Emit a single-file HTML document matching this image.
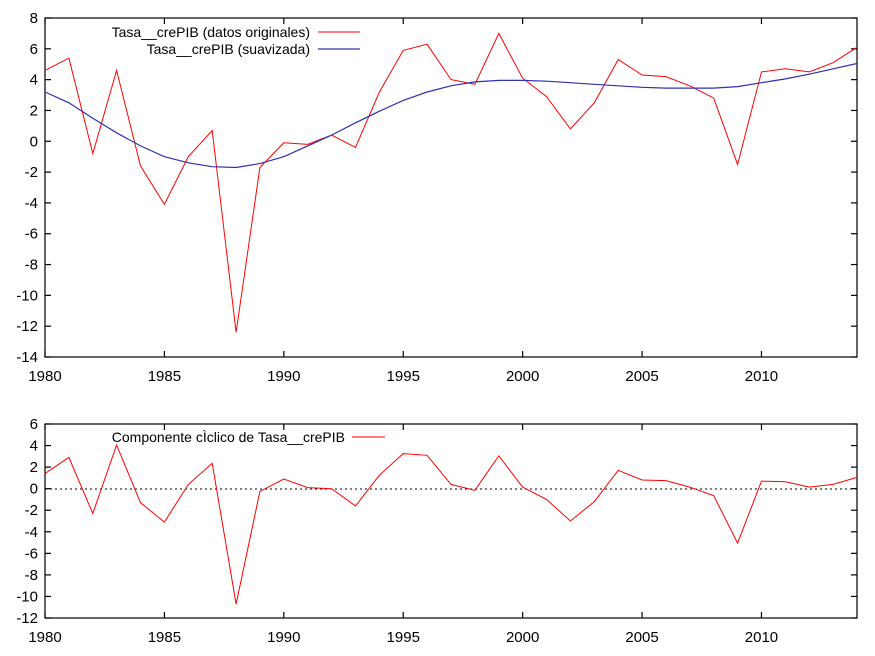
<!DOCTYPE html>
<html><head><meta charset="utf-8"><style>
body{margin:0;background:#fff}
svg{display:block;font-family:"Liberation Sans",Arial,sans-serif;font-size:15px}
.lg{font-size:14px}
</style></head><body>
<svg id="s" width="875" height="656" viewBox="0 0 875 656">
<rect x="0" y="0" width="875" height="656" fill="#fff"/>
<g id="ax" stroke="#000" stroke-width="1.2" fill="none"></g>
<g id="lab" fill="#000"></g>
<line x1="45" y1="489" x2="857" y2="489" stroke="#000" stroke-dasharray="2,3"/>
<polyline id="o" fill="none" stroke="#f00" stroke-width="1"/>
<polyline id="t" fill="none" stroke="#3030b0" stroke-width="1.2"/>
<polyline id="c" fill="none" stroke="#f00" stroke-width="1"/>
<text class="lg" x="310" y="37" text-anchor="end">Tasa__crePIB (datos originales)</text>
<line x1="318" y1="32" x2="360" y2="32" stroke="#f00"/>
<text class="lg" x="310" y="54" text-anchor="end">Tasa__crePIB (suavizada)</text>
<line x1="318" y1="49" x2="360" y2="49" stroke="#3030b0" stroke-width="1.2"/>
<text class="lg" x="345" y="442" text-anchor="end">Componente cÌclico de Tasa__crePIB</text>
<line x1="352" y1="437" x2="385" y2="437" stroke="#f00"/>
</svg>
<script>
var o=[4.6,5.4,-0.8,4.6,-1.6,-4.1,-1.0,0.7,-12.4,-1.7,-0.1,-0.2,0.4,-0.4,3.2,5.9,6.3,4.0,3.7,7.0,4.1,2.9,0.8,2.5,5.3,4.3,4.2,3.6,2.8,-1.5,4.5,4.7,4.5,5.1,6.1];
var t=[3.2,2.5,1.5,0.55,-0.3,-1.0,-1.4,-1.65,-1.7,-1.45,-1.0,-0.3,0.4,1.2,1.95,2.65,3.2,3.6,3.85,3.95,3.95,3.9,3.8,3.7,3.6,3.5,3.45,3.45,3.45,3.55,3.8,4.05,4.35,4.7,5.05];
var L=45,R=857,T1=18,B1=357,T2=424,B2=618;
function X(i){return L+i*(R-L)/34}
function Y1(v){return T1+(8-v)*(B1-T1)/22}
function Y2(v){return T2+(6-v)*(B2-T2)/18}
function pts(a,f){return a.map(function(v,i){return X(i).toFixed(1)+","+f(v).toFixed(1)}).join(" ")}
document.getElementById("o").setAttribute("points",pts(o,Y1));
document.getElementById("t").setAttribute("points",pts(t,Y1));
document.getElementById("c").setAttribute("points",pts(o.map(function(v,i){return v-t[i]}),Y2));
var ax="",lb="";
function frame(T,B,ymin,ymax,f){
 ax+='<rect x="'+L+'" y="'+T+'" width="'+(R-L)+'" height="'+(B-T)+'"/>';
 for(var v=ymin;v<=ymax;v+=2){var y=f(v);ax+='<line x1="'+L+'" y1="'+y+'" x2="'+(L+6)+'" y2="'+y+'"/><line x1="'+R+'" y1="'+y+'" x2="'+(R-6)+'" y2="'+y+'"/>';
 lb+='<text x="'+(L-7)+'" y="'+(y+5)+'" text-anchor="end">'+v+'</text>';}
 for(var yr=1980;yr<=2010;yr+=5){var x=X(yr-1980);ax+='<line x1="'+x+'" y1="'+B+'" x2="'+x+'" y2="'+(B-6)+'"/><line x1="'+x+'" y1="'+T+'" x2="'+x+'" y2="'+(T+6)+'"/>';
 lb+='<text x="'+x+'" y="'+(B+24)+'" text-anchor="middle">'+yr+'</text>';}
}
frame(T1,B1,-14,8,Y1);frame(T2,B2,-12,6,Y2);
document.getElementById("ax").innerHTML=ax;
document.getElementById("lab").innerHTML=lb;
</script>
</body></html>
